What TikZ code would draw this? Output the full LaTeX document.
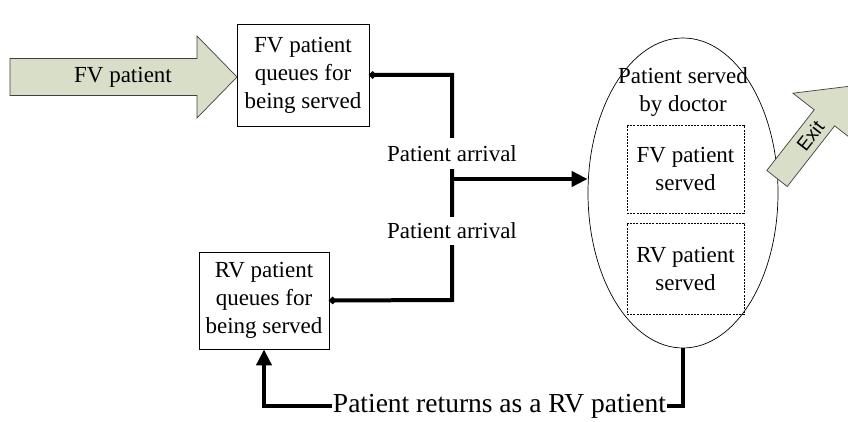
\documentclass[tikz,border=0pt]{standalone}
\usepackage{fontspec}
\setmainfont{Liberation Serif}
\newfontfamily\arialfont{Liberation Sans}
\usetikzlibrary{arrows.meta,shapes.geometric}
\definecolor{arrowfill}{RGB}{216,222,199}
\begin{document}
\begin{tikzpicture}[x=1pt,y=1pt,
  txt/.style={font=\fontsize{23}{28}\selectfont, align=center},
  qbox/.style={draw, line width=0.8pt, txt, inner sep=0pt},
  dbox/.style={draw, line width=0.6pt, dash pattern=on 2pt off 1.2pt, txt, inner sep=0pt, minimum width=117pt},
  conn/.style={line width=4pt},
  lbl/.style={txt, fill=white, inner xsep=2pt, inner ysep=0pt},
  bigarrow/.style={fill=arrowfill, draw=black!75, line width=0.7pt, line join=miter},
  dotends/.style={{Circle[length=6.5pt]}-{Circle[length=6.5pt]}},
  tipend/.style={-{Triangle[length=16pt,width=15pt]}}
]
\useasboundingbox (0,0) rectangle (848,421);

% incoming FV patient arrow
\path[bigarrow] (10,362.5) -- (197,362.5) -- (197,385) -- (237,344) -- (197,303) -- (197,325.5) -- (10,325.5) -- cycle;
\node[txt] (fvin) at (123,344) {FV patient};

% queue boxes
\node[qbox, minimum width=132pt, minimum height=102pt] (fvq) at (303,346) {FV patient\\queues for\\being served};
\node[qbox, minimum width=130pt, minimum height=97pt] (rvq) at (264,120.5) {RV patient\\queues for\\being served};

% service ellipse
\node[draw, ellipse, line width=0.7pt, minimum width=190pt, minimum height=310pt, inner sep=0pt] (serv) at (683,228) {};
\node[txt] (servt) at (683,329) {Patient served\\by doctor};
\node[dbox, minimum height=88pt] (fvs) at (685.5,252) {FV patient\\served};
\node[dbox, minimum height=91pt] (rvs) at (685.5,152.5) {RV patient\\served};

% merging connector
\draw[conn, dotends] (fvq.east) -- (452,346) -- (452,121) -- (rvq.east);
\node[lbl, minimum height=31pt] (arr1) at (452,267.5) {Patient arrival};
\node[lbl, minimum height=28pt] (arr2) at (452,190) {Patient arrival};
\coordinate (junc) at (452,242);
\draw[conn, tipend] (junc) -- (junc -| serv.west);

% return path
\coordinate (rb) at (683,15);
\coordinate (lb) at (264,15);
\draw[conn, line width=4.5pt, tipend] (serv.south) -- (rb) -- (lb) -- (rvq.south);
\node[fill=white, inner sep=1pt, font=\fontsize{27.5}{30}\selectfont] (ret) at (499.5,15) {Patient returns as a RV patient};

% exit arrow
\begin{scope}[shift={(777,242.5)}, rotate=52]
  \path[bigarrow] (0,13) -- (77,13) -- (77,40) -- (117,0) -- (77,-40) -- (77,-13) -- (0,-13) -- cycle;
  \node[font=\arialfont\fontsize{19}{22}\selectfont, rotate=52, inner sep=0pt] (exit) at (54,0) {Exit};
\end{scope}
\end{tikzpicture}
\end{document}
